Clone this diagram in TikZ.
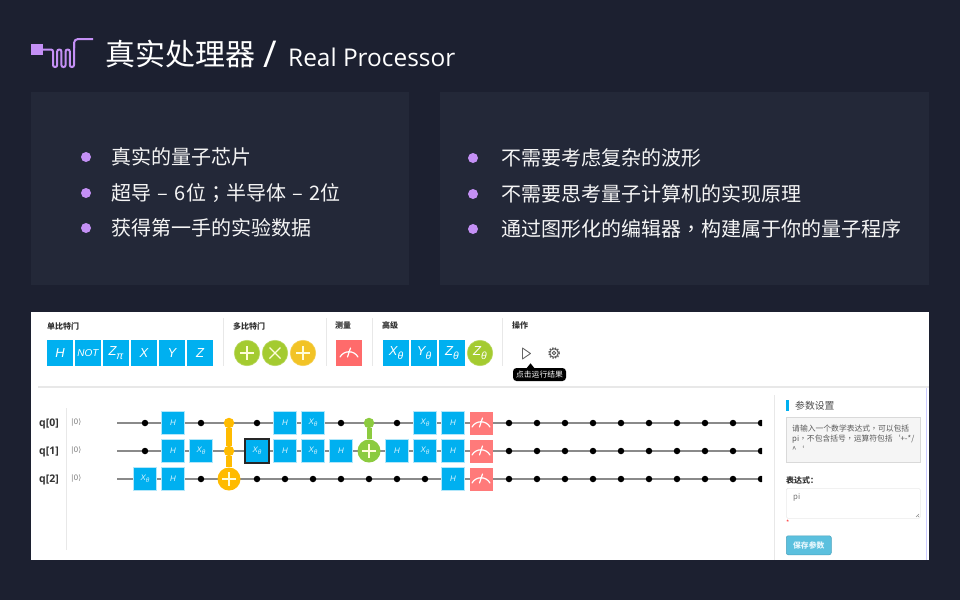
\documentclass[tikz,border=0pt]{standalone}
\usepackage{fontspec}
\usepackage{xcolor}
\usetikzlibrary{calc}
\setmainfont{Noto Sans CJK SC}
\newfontfamily\latinfont{Open Sans}
\newfontfamily\gatefont{Liberation Sans}
\newfontfamily\ketfont{DejaVu Sans}
\newfontfamily\punctfont{Noto Sans CJK TC}
\definecolor{pageBg}    {HTML}{1C2030}
\definecolor{cardBg}    {HTML}{232838}
\definecolor{accentPur} {HTML}{C490F5}
\definecolor{gateBlue}  {HTML}{00B0F0}
\definecolor{gateGreen} {HTML}{A4CB30}
\definecolor{gateYellow}{HTML}{F2C326}
\definecolor{gateRed}   {HTML}{FF6B6B}
\definecolor{cxYellow}  {HTML}{FFBB00}
\definecolor{cxGreen}   {HTML}{8CCB3F}
\definecolor{wireGrey}  {HTML}{8A8A8A}
\definecolor{ruleGrey}  {HTML}{E8E8E8}
\definecolor{saveBlue}  {HTML}{5BC0DE}
\newcommand{\gsub}[2]{#1\raisebox{-0.25em}{\fontsize{0.8em}{1em}\selectfont #2}}
\newcommand{\dashgap}{\hspace{6.5pt}–\hspace{6.5pt}}
\tikzset{
  bodytext/.style={anchor=west, inner sep=0, text=white!96!black, font=\fontsize{20}{24}\selectfont},
  bulletdot/.style={circle, fill=accentPur, inner sep=0, minimum size=10pt},
  toolhead/.style={anchor=west, inner sep=0, text=black!80, font=\bfseries\fontsize{8}{10}\selectfont},
  toolgate/.style={rectangle, fill=gateBlue, inner sep=0, minimum size=26pt, text=white,
    font=\gatefont\itshape\fontsize{13}{14}\selectfont},
  toolround/.style={circle, fill=#1, draw=#1!75!white, line width=0.6pt, inner sep=0, minimum size=25.5pt,
    text=white, font=\gatefont\itshape\fontsize{13}{14}\selectfont},
  qgate/.style={rectangle, fill=gateBlue, draw=gateBlue!30, line width=0.4pt, inner sep=0, minimum size=23pt,
    text=white!85!gateBlue, font=\gatefont\itshape\fontsize{8}{9}\selectfont},
  qsel/.style={qgate, draw=black!85, line width=1.1pt, minimum size=24pt},
  qmeas/.style={rectangle, fill=gateRed!90!white, inner sep=0, minimum size=23pt},
  qdot/.style={circle, fill=black, inner sep=0, minimum size=6.5pt},
  qlabel/.style={anchor=west, inner sep=0, text=black!80, font=\latinfont\bfseries\fontsize{10.5}{12}\selectfont},
  qket/.style={anchor=west, inner sep=0, text=black!50, font=\ketfont\fontsize{7.5}{8}\selectfont},
  panelnote/.style={anchor=west, inner sep=0, text=black!65, font=\fontsize{7.8}{9}\selectfont},
  plusmark/.pic={\draw[white!85!yellow, line width=1.1pt] (-7,0) -- (7,0) (0,-7) -- (0,7);},
  crossmark/.pic={\draw[white!85!yellow, line width=1.1pt] (-5.5,-5.5) -- (5.5,5.5) (-5.5,5.5) -- (5.5,-5.5);},
  needle/.pic={\draw[white, line width=1.2pt, line cap=round] (-9,4) .. controls (-5,-3) and (5,-3) .. (9,4) (-1.5,4) -- (1.5,-5);},
}
\begin{document}
\begin{tikzpicture}[x=1pt, y=-1pt]
  \useasboundingbox (0,0) rectangle (960,600);
  \fill[pageBg] (0,0) rectangle (960,600);
  % title
  \node[fill=accentPur, inner sep=0, minimum width=12pt, minimum height=11.5pt] (chip) at (37,49.5) {};
  \coordinate (lineend) at (93,39);
  \draw[accentPur, line width=2pt, rounded corners=2pt] (chip.east) -- (53,49.5) -- (53,67) -- (57.2,67) -- (57.2,49.5) -- (61.4,49.5) -- (61.4,67)
    -- (65.6,67) -- (65.6,49.5) -- (69.8,49.5) -- (69.8,67) -- (74,67) -- (74,43);
  \draw[accentPur, line width=2pt, rounded corners=4pt] (74,48) -- (74,39) -- (lineend);
  \node[anchor=west, inner sep=0, text=white, font=\fontsize{30}{34}\selectfont] (title) at (105,54) {真实处理器};
  \node[anchor=center, inner sep=0, text=white, font=\latinfont\fontsize{37}{40}\selectfont] (slash) at (270,54) {/};
  \node[anchor=west, inner sep=0, text=white, font=\latinfont\fontsize{24.4}{28}\selectfont] (titleen) at (288,57) {Real Processor};
  % cards
  \fill[cardBg] (31,92) rectangle (409,285);
  \fill[cardBg] (440,92) rectangle (929,285);
  \foreach \i/\y/\txt in {a/157/真实的量子芯片, b/193/超导\dashgap 6位{\punctfont ；}半导体\dashgap 2位, c/228/获得第一手的实验数据}{
    \node[bulletdot] (bl\i) at (86,\y) {};
    \node[bodytext] (tl\i) at (111,\y) {\txt};
  }
  \foreach \i/\y/\txt in {a/158/不需要考虑复杂的波形, b/194/不需要思考量子计算机的实现原理, c/229/通过图形化的编辑器{\punctfont ，}构建属于你的量子程序}{
    \node[bulletdot] (br\i) at (473,\y) {};
    \node[bodytext] (tr\i) at (501,\y) {\txt};
  }
  % screenshot panel
  \fill[white] (31,312) rectangle (929,560);
  \foreach \x in {223,326,372,502}
    \draw[ruleGrey, line width=0.7pt] (\x,318) -- (\x,366);
  \draw[ruleGrey, line width=1.5pt] (38,387) -- (929,387);
  \draw[ruleGrey, line width=0.7pt] (66,408) -- (66,550);
  \draw[ruleGrey, line width=1pt] (774,395) -- (774,560);
  \draw[blue!20, line width=0.8pt] (926,388) -- (926,560);
  % toolbar
  \node[toolhead] (hsingle) at (47,326) {单比特门};
  \node[toolhead] (hmulti) at (233,326) {多比特门};
  \node[toolhead] (hmeas) at (335,325) {测量};
  \node[toolhead] (hadv) at (382,325) {高级};
  \node[toolhead] (hops) at (512,325) {操作};
  \node[toolgate] (tH) at (60,353) {H};
  \node[toolgate, font=\gatefont\itshape\fontsize{10}{12}\selectfont] (tNOT) at (88,353) {NOT};
  \node[toolgate] (tZpi) at (116,353) {\gsub{Z}{π}};
  \node[toolgate] (tX) at (144,353) {X};
  \node[toolgate] (tY) at (172,353) {Y};
  \node[toolgate] (tZ) at (200,353) {Z};
  \node[toolround=gateGreen] (tcx) at (247,353) {};
  \node[toolround=gateGreen] (tcz) at (275,353) {};
  \node[toolround=gateYellow] (tccx) at (303,353) {};
  \pic at (tcx) {plusmark};
  \pic at (tcz) {crossmark};
  \pic at (tccx) {plusmark};
  \node[rectangle, fill=gateRed, inner sep=0, minimum size=26pt] (tmeas) at (349,353) {};
  \pic at (tmeas) {needle};
  \node[toolgate] (tXt) at (396,353) {\gsub{X}{θ}};
  \node[toolgate] (tYt) at (424,353) {\gsub{Y}{θ}};
  \node[toolgate] (tZt) at (452,353) {\gsub{Z}{θ}};
  \node[toolround=gateGreen] (tZr) at (480,353) {\gsub{Z}{θ}};
  \draw[black!60, line width=0.9pt, line join=round] (522.5,348) -- (530.5,353.5) -- (522.5,359) -- cycle;
  \node[circle, draw=black!65, line width=0.9pt, inner sep=0, minimum size=3.5pt] (gearhub) at (554,353) {};
  \draw[black!65, line width=0.9pt] (gearhub) circle (4.2);
  \draw[black!65, line width=1.3pt, dash pattern=on 1.4pt off 1.4pt] (gearhub) circle (5.3);
  \node[rectangle, fill=black, rounded corners=3.5pt, inner sep=0, minimum width=53pt, minimum height=13pt,
    text=white, font=\fontsize{7.8}{9}\selectfont] (tip) at (539.5,374.5) {点击运行结果};
  \fill[black] (tip.north) ++(-13,0.5) -- ++(4,-5) -- ++(4,5) -- cycle;
  % circuit
  \node[qlabel] (q0) at (39,424) {q[0]};
  \node[qlabel] (q1) at (39,452) {q[1]};
  \node[qlabel] (q2) at (39,480) {q[2]};
  \foreach \r/\y in {0/423,1/451,2/479}{
    \node[qket] (ket\r) at (71,\y) {|0⟩};
    \coordinate (w\r a) at (117,\y);
    \coordinate (w\r b) at (761,\y);
    \draw[wireGrey, line width=1.5pt] (w\r a) -- (w\r b);
  }
  \begin{scope}
    \clip (100,400) rectangle (762,500);
    \foreach \k in {0,2,4,7,9,13,14,...,22}
      \node[qdot] (d0-\k) at ({145+28*\k},423) {};
    \foreach \k in {0,13,14,...,22}
      \node[qdot] (d1-\k) at ({145+28*\k},451) {};
    \foreach \k in {2,4,5,...,10,13,14,...,22}
      \node[qdot] (d2-\k) at ({145+28*\k},479) {};
  \end{scope}
  \foreach \k/\g in {1/H,5/H,6/\gsub{X}{θ},10/\gsub{X}{θ},11/H}
    \node[qgate] (g0-\k) at ({145+28*\k},423) {\g};
  \foreach \k/\g in {1/H,2/\gsub{X}{θ},5/H,6/\gsub{X}{θ},7/H,9/H,10/\gsub{X}{θ},11/H}
    \node[qgate] (g1-\k) at ({145+28*\k},451) {\g};
  \foreach \k/\g in {0/\gsub{X}{θ},1/H,11/H}
    \node[qgate] (g2-\k) at ({145+28*\k},479) {\g};
  \node[qsel] (g1-4) at (257,451) {\gsub{X}{θ}};
  \foreach \r/\y in {0/423,1/451,2/479}{
    \node[qmeas] (m\r) at (481,\y) {};
    \pic at (m\r) {needle};
  }
  % controlled gates
  \node[circle, fill=cxYellow, inner sep=0, minimum size=10.5pt] (cy0) at (229,423) {};
  \node[circle, fill=cxYellow, inner sep=0, minimum size=10.5pt] (cy1) at (229,451) {};
  \node[circle, fill=cxYellow, inner sep=0, minimum size=23pt] (cyt) at (229,479) {};
  \draw[cxYellow, line width=6.5pt] (cy0) -- (cy1) -- (cyt);
  \pic at (cyt) {plusmark};
  \node[circle, fill=cxGreen, inner sep=0, minimum size=10.5pt] (cg0) at (369,423) {};
  \node[circle, fill=cxGreen, inner sep=0, minimum size=23pt] (cgt) at (369,451) {};
  \draw[cxGreen, line width=5pt] (cg0) -- (cgt);
  \pic at (cgt) {plusmark};
  % parameter panel
  \fill[gateBlue] (786,400) rectangle (789,411);
  \node[anchor=west, inner sep=0, text=black!70, font=\fontsize{9.8}{12}\selectfont] (ptitle) at (795,406) {参数设置};
  \node[anchor=north west, fill=black!4, draw=black!15, line width=0.7pt, inner sep=0,
    minimum width=134pt, minimum height=45pt] (pnote) at (786,417) {};
  \node[panelnote] (pl1) at (792,428.5) {请输入一个数学表达式{\punctfont ，}可以包括};
  \node[panelnote] (pl2) at (792,439.5) {pi{\punctfont ，}不包含括号{\punctfont ，}运算符包括`+-*/};
  \node[panelnote] (pl3) at (792,449.5) {\textasciicircum`};
  \node[toolhead] (pexpr) at (786,480) {表达式：};
  \node[anchor=north west, draw=black!8, line width=0.6pt, rounded corners=1.5pt, inner sep=0,
    minimum width=134pt, minimum height=30pt] (pinput) at (786,488) {};
  \node[panelnote, text=black!55] (pval) at (793,497) {pi};
  \draw[black!45, line width=0.4pt] (916,517) -- (919,514) (918,517) -- (919,516);
  \node[anchor=west, inner sep=0, text=red!80, font=\fontsize{7}{8}\selectfont] (pstar) at (786,523) {*};
  \node[anchor=north west, fill=saveBlue, draw=saveBlue!85!black, line width=0.5pt, rounded corners=2pt, inner sep=0,
    minimum width=45pt, minimum height=19pt, text=white!90!cyan, font=\bfseries\fontsize{7.8}{9}\selectfont] (psave) at (786,535.5) {保存参数};
\end{tikzpicture}
\end{document}
